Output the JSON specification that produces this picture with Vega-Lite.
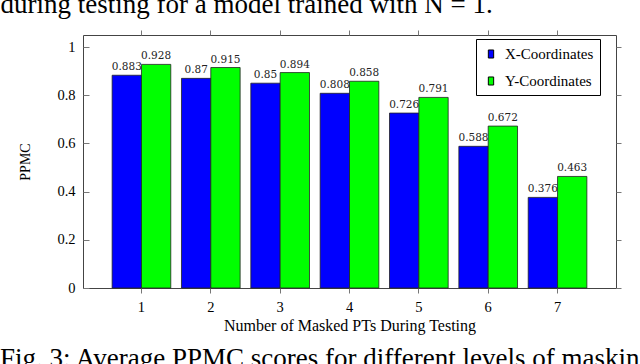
{
  "$schema": "https://vega.github.io/schema/vega-lite/v6.json",
  "autosize": "none",
  "width": 533,
  "height": 253,
  "padding": {"left": 83, "top": 35, "right": 24, "bottom": 76},
  "background": "white",
  "config": {
    "view": {"stroke": "#444", "strokeWidth": 1},
    "font": "Liberation Serif"
  },
  "title": {
    "text": "Fig. 3: Average PPMC scores for different levels of masking",
    "orient": "bottom",
    "anchor": "start",
    "frame": "group",
    "dx": -83,
    "offset": 12,
    "font": "Liberation Serif",
    "fontSize": 27,
    "fontWeight": "normal",
    "color": "black"
  },
  "data": {
    "values": [
      {"masked": 1, "series": "X-Coordinates", "ppmc": 0.883},
      {"masked": 1, "series": "Y-Coordinates", "ppmc": 0.928},
      {"masked": 2, "series": "X-Coordinates", "ppmc": 0.87},
      {"masked": 2, "series": "Y-Coordinates", "ppmc": 0.915},
      {"masked": 3, "series": "X-Coordinates", "ppmc": 0.85},
      {"masked": 3, "series": "Y-Coordinates", "ppmc": 0.894},
      {"masked": 4, "series": "X-Coordinates", "ppmc": 0.808},
      {"masked": 4, "series": "Y-Coordinates", "ppmc": 0.858},
      {"masked": 5, "series": "X-Coordinates", "ppmc": 0.726},
      {"masked": 5, "series": "Y-Coordinates", "ppmc": 0.791},
      {"masked": 6, "series": "X-Coordinates", "ppmc": 0.588},
      {"masked": 6, "series": "Y-Coordinates", "ppmc": 0.672},
      {"masked": 7, "series": "X-Coordinates", "ppmc": 0.376},
      {"masked": 7, "series": "Y-Coordinates", "ppmc": 0.463}
    ]
  },
  "resolve": {"axis": {"x": "independent", "y": "independent"}},
  "layer": [
    {
      "mark": {"type": "bar", "stroke": "#222", "strokeWidth": 0.8},
      "encoding": {
        "x": {
          "field": "masked", "type": "ordinal",
          "scale": {"paddingInner": 0.154, "paddingOuter": 0.42},
          "axis": {
            "orient": "bottom", "title": "Number of Masked PTs During Testing",
            "labelAngle": 0, "domain": false, "tickSize": 5, "tickColor": "#777",
            "labelFont": "Liberation Serif", "labelFontSize": 14.5, "labelColor": "black",
            "labelPadding": 7, "titleFont": "Liberation Serif", "titleFontSize": 16,
            "titleFontWeight": "normal", "titleColor": "black", "titlePadding": 4
          }
        },
        "xOffset": {"field": "series", "type": "nominal", "scale": {"paddingInner": 0, "paddingOuter": 0}},
        "y": {
          "field": "ppmc", "type": "quantitative",
          "scale": {"domain": [0, 1.05], "nice": false, "zero": true},
          "axis": {
            "orient": "left", "title": "PPMC", "values": [0, 0.2, 0.4, 0.6, 0.8, 1],
            "format": "~g", "grid": false, "domain": false, "tickSize": -6, "tickColor": "#777",
            "labelFont": "Liberation Serif", "labelFontSize": 14.5, "labelColor": "black",
            "labelPadding": 14, "titleFont": "Liberation Serif", "titleFontSize": 14,
            "titleFontWeight": "normal", "titleColor": "black", "titlePadding": 24
          }
        },
        "color": {
          "field": "series", "type": "nominal",
          "scale": {"domain": ["X-Coordinates", "Y-Coordinates"], "range": ["#0000ff", "#00ff00"]},
          "legend": {
            "title": null, "orient": "none", "legendX": 393, "legendY": 4,
            "symbolType": "M-0.33,-0.5H0.33V0.5H-0.33Z", "symbolSize": 260,
            "symbolStrokeColor": "#000", "symbolStrokeWidth": 1,
            "labelFont": "Liberation Serif", "labelFontSize": 15, "labelColor": "black",
            "labelOffset": 5, "padding": 6, "rowPadding": 10,
            "strokeColor": "#000", "fillColor": "white"
          }
        }
      }
    },
    {
      "mark": {"type": "text", "baseline": "bottom", "dy": -3, "font": "DejaVu Serif", "fontSize": 10.5, "color": "#222"},
      "encoding": {
        "x": {
          "field": "masked", "type": "ordinal",
          "axis": {
            "orient": "top", "labels": false, "domain": false, "tickSize": 5, "tickColor": "#777",
            "title": "during testing for a model trained with N = 1.",
            "titleFont": "Liberation Serif", "titleFontSize": 27, "titleFontWeight": "normal",
            "titleColor": "black", "titleAnchor": "start", "titleAlign": "left",
            "titleBaseline": "alphabetic", "titleX": -83, "titleY": -23
          }
        },
        "xOffset": {"field": "series", "type": "nominal"},
        "y": {
          "field": "ppmc", "type": "quantitative",
          "axis": {
            "orient": "right", "labels": false, "domain": false, "grid": false,
            "values": [0, 0.2, 0.4, 0.6, 0.8, 1], "tickSize": 5, "tickColor": "#777", "title": null
          }
        },
        "text": {"field": "ppmc", "type": "quantitative", "format": ".3~f"}
      }
    }
  ]
}
